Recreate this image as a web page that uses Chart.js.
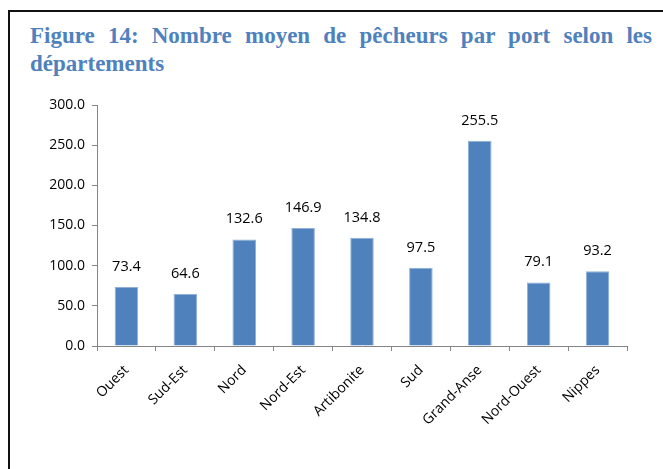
<!DOCTYPE html>
<html>
<head>
<meta charset="utf-8">
<script src="https://cdn.jsdelivr.net/npm/chart.js@4"></script>
<style>
    html, body { margin: 0; padding: 0; background: #fff; overflow: hidden; }
    body { width: 663px; height: 469px; position: relative; }
    .frame {
        position: absolute; left: 8px; top: 10px; width: 700px; height: 520px;
        border: 2px solid #111; box-sizing: border-box;
    }
    .title {
        position: absolute; left: 30px; top: 22px; width: 622px;
        font-family: "Liberation Serif", "Times New Roman", serif;
        font-weight: bold; font-size: 23px; line-height: 28px;
        color: #4F81BD; text-align: justify;
    }
    #chart { position: absolute; left: 0; top: 0; }
</style>
</head>
<body>
<div class="frame"></div>
<div class="title">Figure 14: Nombre moyen de pêcheurs par port selon les départements</div>
<canvas id="chart" width="663" height="469"></canvas>
<script>
// données
const departements = ['Ouest', 'Sud-Est', 'Nord', 'Nord-Est', 'Artibonite', 'Sud', 'Grand-Anse', 'Nord-Ouest', 'Nippes'];
const pecheursParPort = [73.4, 64.6, 132.6, 146.9, 134.8, 97.5, 255.5, 79.1, 93.2];
const yMax = 300;
const yStep = 50;

const axisColor = '#868686';
const barColor = '#4F81BD';
const fontFamily = '"Open Sans", "Noto Sans", sans-serif';

// étiquettes de valeurs au-dessus des barres
const valueLabels = {
    id: 'valueLabels',
    afterDatasetsDraw(chart) {
        const ctx = chart.ctx;
        const meta = chart.getDatasetMeta(0);
        ctx.save();
        ctx.font = '14.5px ' + fontFamily;
        ctx.fillStyle = '#000';
        ctx.textAlign = 'center';
        ctx.textBaseline = 'alphabetic';
        meta.data.forEach((bar, i) => {
            const v = chart.data.datasets[0].data[i];
            ctx.fillText(v.toFixed(1), bar.x, bar.y - 16);
        });
        ctx.restore();
    }
};

new Chart(document.getElementById('chart'), {
    type: 'bar',
    data: {
        labels: departements,
        datasets: [{
            data: pecheursParPort,
            backgroundColor: barColor,
            borderColor: '#8FB0D8',
            borderWidth: { left: 1, right: 1, top: 1, bottom: 0 },
            categoryPercentage: 1,
            barPercentage: 0.4
        }]
    },
    options: {
        responsive: false,
        animation: false,
        layout: { padding: { left: 0, right: 36, top: 105, bottom: 0 } },
        plugins: {
            legend: { display: false },
            tooltip: { enabled: false }
        },
        scales: {
            x: {
                grid: {
                    drawOnChartArea: false,
                    drawTicks: true,
                    tickLength: 5,
                    tickColor: axisColor,
                    offset: true
                },
                border: { color: axisColor, width: 1 },
                ticks: {
                    color: '#000',
                    font: { family: fontFamily, size: 14 },
                    minRotation: 45,
                    maxRotation: 45,
                    padding: 11
                },
                afterFit(scale) { scale.height = 123; }
            },
            y: {
                min: 0,
                max: yMax,
                grid: {
                    drawOnChartArea: false,
                    drawTicks: true,
                    tickLength: 5,
                    tickColor: axisColor
                },
                border: { color: axisColor, width: 1 },
                ticks: {
                    stepSize: yStep,
                    color: '#000',
                    font: { family: fontFamily, size: 14 },
                    padding: 7,
                    callback: v => v.toFixed(1)
                },
                afterFit(scale) { scale.width = 97; }
            }
        }
    },
    plugins: [valueLabels]
});
</script>
</body>
</html>
